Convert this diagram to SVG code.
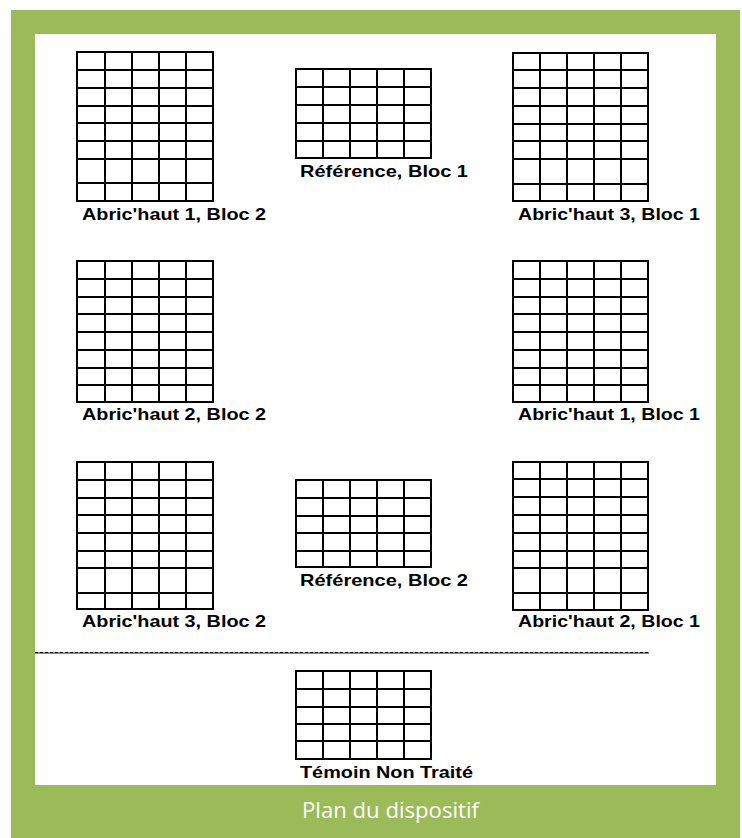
<svg xmlns="http://www.w3.org/2000/svg" width="742" height="838" viewBox="0 0 742 838">
<style>
.grid{fill:none;stroke:#000;stroke-width:2}
.lbl{font-family:"Liberation Sans",Arial,sans-serif;font-weight:bold;font-size:16.5px;fill:#000}
.title{font-family:"Open Sans","Noto Sans","Liberation Sans",sans-serif;font-size:22.5px;fill:#fff}
</style>
<rect x="0" y="0" width="742" height="838" fill="#fff"/>
<g id="frame">
<rect x="11" y="10" width="729" height="828" fill="#9BBB59"/>
<rect x="35" y="34" width="681" height="751" fill="#fff"/>
<text class="title" x="302" y="818" textLength="177" lengthAdjust="spacingAndGlyphs">Plan du dispositif</text>
</g>
<g id="abrichaut1-bloc2">
<path class="grid" d="M77 52H213V201H77Z M105 52V201 M132 52V201 M159 52V201 M186 52V201 M77 70H213 M77 88H213 M77 106H213 M77 123H213 M77 141H213 M77 159H213 M77 183H213"/>
<text class="lbl" x="82" y="220" textLength="184" lengthAdjust="spacingAndGlyphs">Abric'haut 1, Bloc 2</text>
</g>
<g id="reference-bloc1">
<path class="grid" d="M296 69H431V158H296Z M323 69V158 M350 69V158 M377 69V158 M404 69V158 M296 87H431 M296 105H431 M296 123H431 M296 141H431"/>
<text class="lbl" x="300" y="177" textLength="168" lengthAdjust="spacingAndGlyphs">Référence, Bloc 1</text>
</g>
<g id="abrichaut3-bloc1">
<path class="grid" d="M513 53H648V201H513Z M540 53V201 M567 53V201 M594 53V201 M621 53V201 M513 70H648 M513 88H648 M513 106H648 M513 124H648 M513 141H648 M513 159H648 M513 184H648"/>
<text class="lbl" x="518" y="220" textLength="182" lengthAdjust="spacingAndGlyphs">Abric'haut 3, Bloc 1</text>
</g>
<g id="abrichaut2-bloc2">
<path class="grid" d="M77 261H213V402H77Z M105 261V402 M132 261V402 M159 261V402 M186 261V402 M77 279H213 M77 297H213 M77 314H213 M77 332H213 M77 350H213 M77 368H213 M77 385H213"/>
<text class="lbl" x="82" y="420" textLength="184" lengthAdjust="spacingAndGlyphs">Abric'haut 2, Bloc 2</text>
</g>
<g id="abrichaut1-bloc1">
<path class="grid" d="M513 261H648V402H513Z M540 261V402 M567 261V402 M594 261V402 M621 261V402 M513 279H648 M513 297H648 M513 314H648 M513 332H648 M513 350H648 M513 368H648 M513 385H648"/>
<text class="lbl" x="518" y="420" textLength="182" lengthAdjust="spacingAndGlyphs">Abric'haut 1, Bloc 1</text>
</g>
<g id="abrichaut3-bloc2">
<path class="grid" d="M77 462H213V609H77Z M105 462V609 M132 462V609 M159 462V609 M186 462V609 M77 480H213 M77 498H213 M77 515H213 M77 533H213 M77 551H213 M77 568H213 M77 593H213"/>
<text class="lbl" x="82" y="627" textLength="184" lengthAdjust="spacingAndGlyphs">Abric'haut 3, Bloc 2</text>
</g>
<g id="reference-bloc2">
<path class="grid" d="M296 480H431V567H296Z M323 480V567 M350 480V567 M377 480V567 M404 480V567 M296 498H431 M296 516H431 M296 533H431 M296 551H431"/>
<text class="lbl" x="300" y="586" textLength="168" lengthAdjust="spacingAndGlyphs">Référence, Bloc 2</text>
</g>
<g id="abrichaut2-bloc1">
<path class="grid" d="M513 462H648V610H513Z M540 462V610 M567 462V610 M594 462V610 M621 462V610 M513 479H648 M513 497H648 M513 515H648 M513 533H648 M513 551H648 M513 568H648 M513 593H648"/>
<text class="lbl" x="518" y="627" textLength="182" lengthAdjust="spacingAndGlyphs">Abric'haut 2, Bloc 1</text>
</g>
<g id="separator">
<line x1="35" y1="653" x2="649" y2="653" stroke="#8a8a8a" stroke-width="2"/>
<line x1="35" y1="652.5" x2="649" y2="652.5" stroke="#000" stroke-width="1.2" stroke-dasharray="3 2"/>
</g>
<g id="temoin-non-traite">
<path class="grid" d="M296 671H431V759H296Z M323 671V759 M350 671V759 M377 671V759 M404 671V759 M296 689H431 M296 707H431 M296 724H431 M296 741H431"/>
<text class="lbl" x="300" y="778" textLength="173" lengthAdjust="spacingAndGlyphs">Témoin Non Traité</text>
</g>
</svg>
